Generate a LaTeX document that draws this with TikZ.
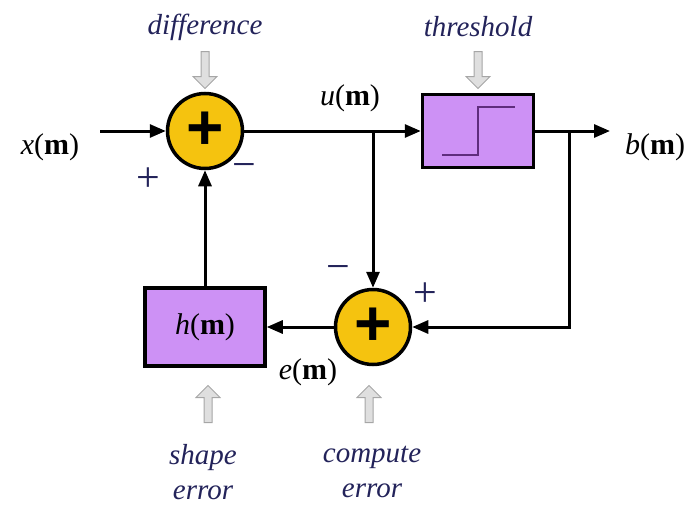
\documentclass[tikz,border=0pt]{standalone}
\usepackage{fontspec}
\setmainfont{Liberation Serif}
\newfontfamily\plusfont{Liberation Sans}
\usetikzlibrary{arrows.meta, shapes.arrows}
\definecolor{sumyellow}{RGB}{245,195,15}
\definecolor{blockviolet}{RGB}{205,145,245}
\definecolor{stepviolet}{RGB}{95,45,125}
\definecolor{labelnavy}{RGB}{35,35,90}

\begin{document}
\begin{tikzpicture}[x=1pt,y=-1pt,>={Triangle[length=16pt,width=13pt]},
  font=\fontsize{30}{36}\selectfont,
  wire/.style={line width=3pt},
  sumnode/.style={circle, draw, line width=3.5pt, fill=sumyellow, minimum size=75pt, inner sep=0pt, font=\plusfont\bfseries\fontsize{64}{64}\selectfont},
  blocknode/.style={rectangle, draw, line width=3.5pt, fill=blockviolet, minimum width=120pt, minimum height=78pt},
  hint/.style={text=labelnavy, font=\itshape\fontsize{29}{35}\selectfont, align=center},
  sign/.style={text=labelnavy, font=\fontsize{42}{42}\selectfont},
  hintarrow/.style={single arrow, draw=gray!70, fill=gray!25, line width=1pt, minimum height=37pt, minimum width=24pt, single arrow head extend=5pt, inner sep=2pt}]
  \useasboundingbox (0,0) rectangle (699,506);
  % blocks
  \node[sumnode] (diff) at (205,131) {+};
  \node[sumnode] (comp) at (373,327) {+};
  \node[blocknode, minimum width=111pt, minimum height=73pt] (thr) at (478,131) {};
  \node[blocknode] (shp) at (205,327) {\textit{h}(\textbf{m})};
  \draw[stepviolet, line width=2.5pt] (442,155) -- (478,155) -- (478,107) -- (515,107);
  % signals
  \coordinate (xin) at (100,131);
  \coordinate (bout) at (610,131);
  \coordinate (ubr) at (373,131);
  \coordinate (bbr) at (569,131);
  \node (xlab) at (50,147) {\textit{x}(\textbf{m})};
  \node (ulab) at (350,98) {\textit{u}(\textbf{m})};
  \node (blab) at (655,147) {\textit{b}(\textbf{m})};
  \node (elab) at (308,372) {\textit{e}(\textbf{m})};
  \draw[wire, ->] (xin) -- (diff.west);
  \draw[wire, ->] (diff.east) -- (thr.west);
  \draw[wire, ->] (thr.east) -- (bout);
  \draw[wire, ->] (ubr) -- (comp.north);
  \draw[wire, ->] (bbr) |- (comp.east);
  \draw[wire, ->] (comp.west) -- (shp.east);
  \draw[wire, ->] (shp.north) -- (diff.south);
  % signs
  \node[sign] (p1) at (148,180) {+};
  \node[sign] (m1) at (244,171) {−};
  \node[sign] (m2) at (338,273) {−};
  \node[sign] (p2) at (425,295) {+};
  % hints
  \node[hint] (hdiff) at (205,27) {difference};
  \node[hint] (hthr) at (478,27) {threshold};
  \node[hint] (hshp) at (203,472) {shape\\error};
  \node[hint] (hcomp) at (372,472) {compute\\error};
  \node[hintarrow, rotate=270] (adiff) at (205,68) {};
  \node[hintarrow, rotate=270] (athr) at (478,68) {};
  \node[hintarrow, rotate=90] (ashp) at (208,406) {};
  \node[hintarrow, rotate=90] (acomp) at (369,406) {};
\end{tikzpicture}
\end{document}
